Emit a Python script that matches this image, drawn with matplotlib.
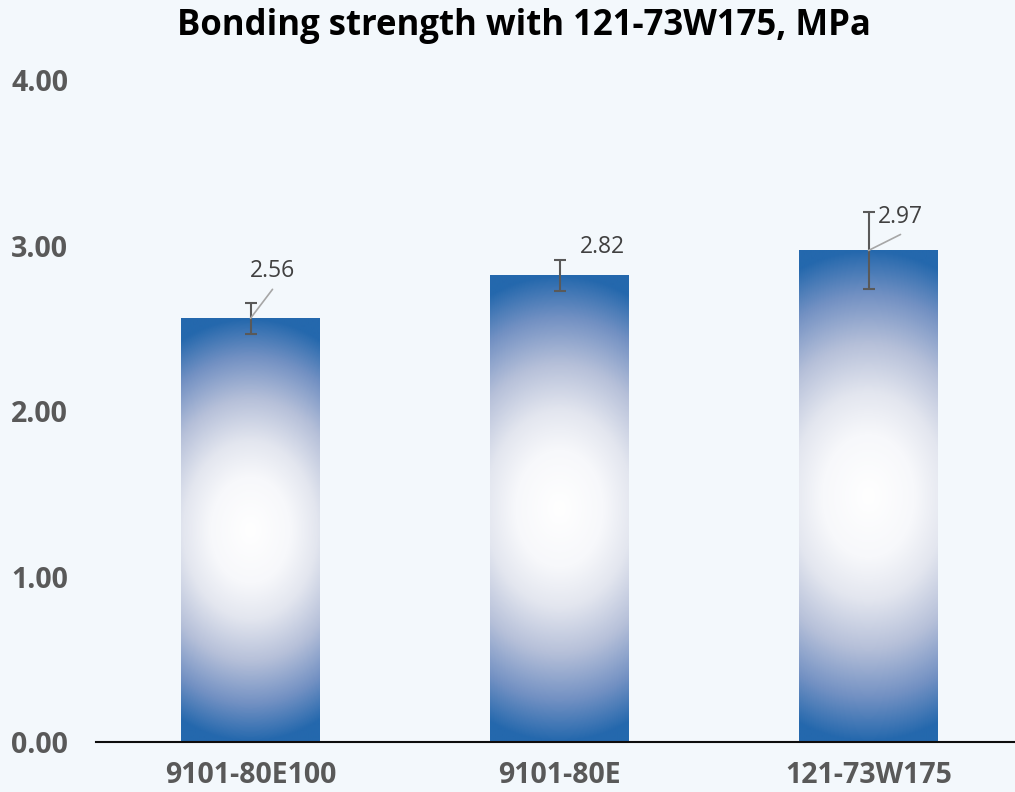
import numpy as np
import matplotlib
matplotlib.use('Agg')
import matplotlib.pyplot as plt
from matplotlib.colors import LinearSegmentedColormap

plt.rcParams['font.family'] = ['Open Sans', 'DejaVu Sans']

# Bonding strength, MPa
categories = ['9101-80E100', '9101-80E', '121-73W175']
strength = [2.56, 2.82, 2.97]
errors = [0.094, 0.092, 0.233]
yticks = [0, 1, 2, 3, 4]

# label placement (pixels from the bar top) and leader line ends
label_offsets = [(22, 47), (43, 28), (32, 33)]
leader_ends = [(22, 29), None, (32, 16)]

fig = plt.figure(figsize=(10.15, 7.92), dpi=100, facecolor='#F3F8FC')
ax = fig.add_axes([0.0946, 0.0631, 0.9133, 0.8359])
ax.set_facecolor('none')

x = np.arange(len(categories))
bars = ax.bar(x, strength, width=0.447, color='none', edgecolor='none', zorder=2)
ax.set_xlim(-0.5, 2.5)
ax.set_ylim(0, 4)

# white centre fading out to blue
glow = LinearSegmentedColormap.from_list('glow', [
    (0.0, '#FFFFFF'), (0.25, '#F7F8FB'), (0.42, '#E3E6EF'),
    (0.62, '#B6C0D9'), (0.82, '#7391C3'), (1.0, '#2468AD')])

for bar in bars:
    x0, y0 = bar.get_x(), bar.get_y()
    w, h = bar.get_width(), bar.get_height()
    p0 = ax.transData.transform((x0, y0))
    p1 = ax.transData.transform((x0 + w, y0 + h))
    wpx, hpx = p1 - p0
    gx = np.linspace(-wpx / 2, wpx / 2, int(wpx))
    gy = np.linspace(-hpx / 2, hpx / 2, int(hpx))
    X, Y = np.meshgrid(gx, gy)
    r = np.sqrt((X / (0.75 * hpx / 2)) ** 2 + (Y / (hpx / 2)) ** 2)
    ax.imshow(np.clip(r, 0, 1), cmap=glow, vmin=0, vmax=1,
              extent=(x0, x0 + w, y0, y0 + h), aspect='auto',
              origin='lower', interpolation='bilinear', zorder=2)

ax.set_xlim(-0.5, 2.5)
ax.set_ylim(0, 4)

ax.errorbar(x, strength, yerr=errors, fmt='none', ecolor='#595959',
            elinewidth=1.5, capsize=4.5, capthick=1.5, zorder=3)

for i, v in enumerate(strength):
    if leader_ends[i] is not None:
        ax.annotate('', xy=(x[i], v), xytext=leader_ends[i],
                    textcoords='offset pixels',
                    arrowprops=dict(arrowstyle='-', color='#A6A6A6', lw=1.2,
                                    shrinkA=0, shrinkB=0), zorder=4)
    ax.annotate(f'{v:.2f}', xy=(x[i], v), xytext=label_offsets[i],
                textcoords='offset pixels', ha='center', va='center',
                fontsize=16.5, color='#404040', zorder=5)

ax.set_yticks(yticks)
ax.set_yticklabels([f'{t:.2f}' for t in yticks])
ax.set_xticks(x)
ax.set_xticklabels(categories)
ax.tick_params(axis='y', length=0, pad=20, labelsize=20.5, labelcolor='#595959')
ax.tick_params(axis='x', length=0, pad=14, labelsize=20.5, labelcolor='#595959')
for lab in ax.get_xticklabels() + ax.get_yticklabels():
    lab.set_fontweight('bold')

for side in ['left', 'right', 'top']:
    ax.spines[side].set_visible(False)
ax.spines['bottom'].set_color('#0D0D0D')
ax.spines['bottom'].set_linewidth(1.5)
ax.spines['bottom'].set_zorder(4)

fig.text(524 / 1015, 1 - 26 / 792, 'Bonding strength with 121-73W175, MPa',
         ha='center', va='center', fontsize=25, fontweight='bold', color='black')

fig.savefig('out.png', dpi=100, facecolor=fig.get_facecolor())
